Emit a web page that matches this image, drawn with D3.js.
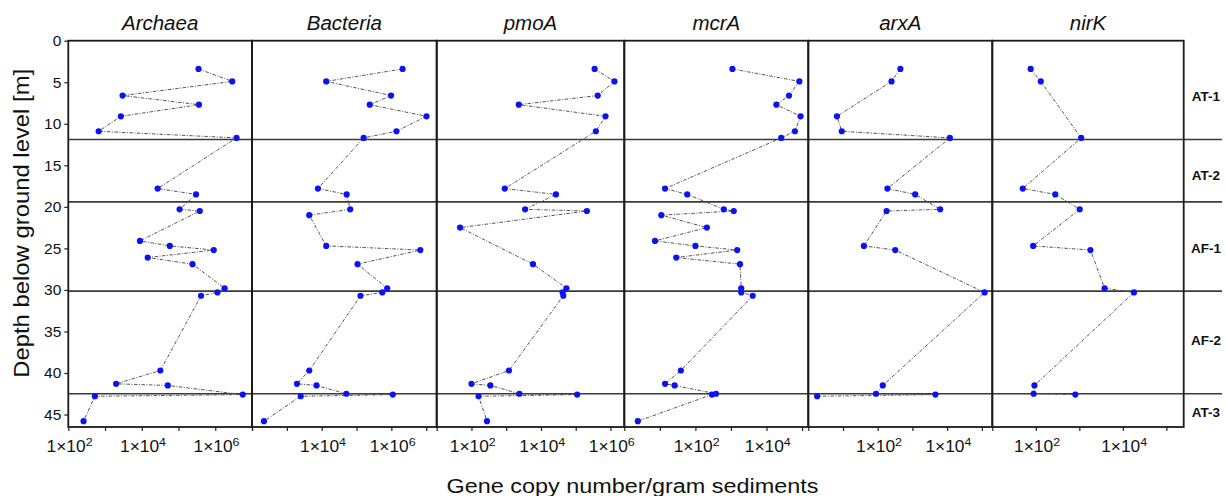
<!DOCTYPE html>
<html>
<head>
<meta charset="utf-8">
<script src="https://cdn.jsdelivr.net/npm/d3@7"></script>
<style>
  html, body { margin: 0; padding: 0; background: #fff; }
  svg { display: block; font-family: "Liberation Sans", Arial, sans-serif; }
</style>
</head>
<body>
<svg id="chart" width="1226" height="496"></svg>
<script>
// ---------------- data ----------------
const genes = ["Archaea", "Bacteria", "pmoA", "mcrA", "arxA", "nirK"];

const archaeaDepth = [3.4,4.9,6.6,7.7,9.1,10.9,11.7,17.8,18.5,20.3,20.5,24.1,24.7,25.2,26.1,26.9,29.8,30.3,30.7,39.7,41.3,41.5,42.6,42.8,45.8];
const archaeaCopies = [3.5e5,2.9e6,3.0e3,3.6e5,2.7e3,6.7e2,3.8e6,2.7e4,3.0e5,1.07e5,3.8e5,8.9e3,5.8e4,9.1e5,1.45e4,2.4e5,1.8e6,1.15e6,4.1e5,3.2e4,2.0e3,5.1e4,5.6e6,5.3e2,2.6e2];

const bacteriaDepth = [3.4,4.9,6.6,7.7,9.1,10.9,11.7,17.8,18.5,20.3,21.0,24.7,25.2,26.9,29.8,30.3,30.7,39.7,41.3,41.5,42.5,42.6,42.8,45.8];
const bacteriaCopies = [2.1e6,1.35e4,9.8e5,2.4e5,1.02e7,1.4e6,1.6e5,7.8e3,5.2e4,6.6e4,4.4e3,1.35e4,6.8e6,1.07e5,7.6e5,5.5e5,1.3e5,4.4e3,1.95e3,7.1e3,5.1e4,1.1e6,2.5e3,2.2e2];

const pmoADepth = [3.4,4.9,6.6,7.7,9.1,10.9,17.8,18.5,20.3,20.5,22.5,26.9,29.8,30.3,30.7,39.7,41.3,41.5,42.5,42.6,42.8,45.8];
const pmoACopies = [3.5e5,1.3e6,4.3e5,2.3e3,7.2e5,3.8e5,9.1e2,2.7e4,3.5e3,2.1e5,47,5.9e3,5.4e4,4.2e4,4.4e4,1.2e3,1.0e2,3.5e2,2.4e3,1.1e5,1.6e2,2.8e2];

const mcrADepth = [3.4,4.9,6.6,7.7,9.1,10.9,11.7,17.8,18.5,20.3,20.5,21.0,22.5,24.1,24.7,25.2,26.1,26.9,29.8,30.3,30.7,39.7,41.3,41.5,42.5,42.6,45.8];
const mcrACopies = [1.1e3,8.4e4,4.3e4,1.9e4,9.1e4,6.3e4,2.6e4,14,59,6.3e2,1.2e3,11,2.1e2,7.3,1.0e2,1.5e3,29,1.8e3,1.95e3,1.95e3,4.1e3,39,14,26,3.8e2,2.9e2,2.4];

const arxADepth = [3.4,4.9,9.1,10.9,11.7,17.8,18.5,20.3,20.5,24.7,25.2,30.3,41.5,42.5,42.6,42.8];
const arxACopies = [4.5e2,2.5e2,6.7,9.2,1.2e4,1.9e2,1.2e3,6.3e3,1.8e2,40,3.2e2,1.2e5,1.4e2,89,4.6e3,1.8];

const nirKDepth = [3.4,4.9,11.7,17.8,18.5,20.3,24.7,25.2,29.8,30.3,41.5,42.5,42.6];
const nirKCopies = [76,1.3e2,1.1e3,50,2.8e2,1.02e3,87,1.8e3,3.8e3,1.8e4,93,89,8.1e2];

const geneDepths = [archaeaDepth, bacteriaDepth, pmoADepth, mcrADepth, arxADepth, nirKDepth];
const geneCopies = [archaeaCopies, bacteriaCopies, pmoACopies, mcrACopies, arxACopies, nirKCopies];

// axis settings (log domains and labelled exponents)
const xDomains = [[1e2, 1e7], [1e2, 2e7], [1e1, 2.5e6], [1, 1.5e5], [1, 2e5], [1e1, 2.5e5]];
const labelExponents = [[2, 4, 6], [4, 6], [2, 4, 6], [2, 4], [2, 4], [2, 4]];

const depthTicks = [0, 5, 10, 15, 20, 25, 30, 35, 40, 45];
const zoneBounds = [0, 11.9, 19.4, 30.15, 42.5, 46.5];
const zoneNames = ["AT-1", "AT-2", "AF-1", "AF-2", "AT-3"];

const xTitle = "Gene copy number/gram sediments";
const yTitle = "Depth below ground level [m]";

// ---------------- layout ----------------
const panelEdges = [68.3, 252, 436.7, 624.3, 808.3, 992.3, 1183.7];
const plotTop = 40.7, plotBottom = 427;
const zoneLineRight = 1222;
const zoneLabelDepth = [6.7, 16.2, 24.95, 36.0, 44.7];

const svg = d3.select("#chart");

const y = d3.scaleLinear().domain([zoneBounds[0], zoneBounds[zoneBounds.length - 1]]).range([plotTop, plotBottom]);

// zone separator lines
svg.append("g").selectAll("line")
  .data(zoneBounds.slice(1, -1))
  .join("line")
  .attr("x1", panelEdges[0]).attr("x2", zoneLineRight)
  .attr("y1", d => y(d)).attr("y2", d => y(d))
  .attr("stroke", "#3a3a3a").attr("stroke-width", 1.6);

// panels
genes.forEach((g, i) => {
  const x0 = panelEdges[i], x1 = panelEdges[i + 1];
  const x = d3.scaleLog().domain(xDomains[i]).range([x0, x1]);
  const pg = svg.append("g");

  pg.append("text")
    .attr("x", (x0 + x1) / 2).attr("y", 30)
    .attr("text-anchor", "middle")
    .attr("font-size", "20.5px").attr("font-style", "italic")
    .attr("fill", "#111")
    .text(g);

  const lo = Math.ceil(Math.log10(xDomains[i][0]) - 1e-9);
  const hi = Math.floor(Math.log10(xDomains[i][1]) + 1e-9);
  const decades = d3.range(lo, hi + 1).map(e => Math.pow(10, e));
  const axis = d3.axisBottom(x).tickValues(decades).tickSize(4).tickFormat("");
  const ag = pg.append("g").attr("transform", `translate(0,${plotBottom})`).call(axis);
  ag.select(".domain").remove();
  ag.selectAll(".tick line").attr("stroke", "#222").attr("stroke-width", 1.2);

  const lab = pg.append("g").selectAll("text")
    .data(labelExponents[i])
    .join("text")
    .attr("x", e => x(Math.pow(10, e)) + 1.3)
    .attr("y", 452.3)
    .attr("text-anchor", "middle")
    .attr("font-size", "16px")
    .attr("fill", "#111")
    .attr("textLength", 46)
    .attr("lengthAdjust", "spacingAndGlyphs");
  lab.append("tspan").text("1×10");
  lab.append("tspan").attr("font-size", "11.5px").attr("dy", "-6").text(e => e);

  const pts = geneDepths[i].map((d, k) => ({ depth: d, v: geneCopies[i][k] }));
  const line = d3.line().x(d => x(d.v)).y(d => y(d.depth));
  pg.append("path")
    .datum(pts)
    .attr("d", line)
    .attr("fill", "none")
    .attr("stroke", "#555")
    .attr("stroke-width", 1)
    .attr("stroke-dasharray", "3.5,1.5,1,1.5");

  pg.append("g").selectAll("circle")
    .data(pts)
    .join("circle")
    .attr("cx", d => x(d.v)).attr("cy", d => y(d.depth))
    .attr("r", 3.1)
    .attr("fill", "#0a14f0");

  pg.append("rect")
    .attr("x", x0).attr("y", plotTop)
    .attr("width", x1 - x0).attr("height", plotBottom - plotTop)
    .attr("fill", "none").attr("stroke", "#1a1a1a").attr("stroke-width", 1.8);
});

// y axis
const yAxis = d3.axisLeft(y).tickValues(depthTicks).tickSize(4).tickPadding(3);
const yg = svg.append("g").attr("transform", `translate(${panelEdges[0]},0)`).call(yAxis);
yg.select(".domain").remove();
yg.selectAll(".tick line").attr("stroke", "#222").attr("stroke-width", 1.2);
yg.selectAll(".tick text")
  .attr("font-size", "15.5px")
  .attr("font-family", "Liberation Sans, Arial, sans-serif")
  .attr("fill", "#111");

// zone labels
svg.append("g").selectAll("text")
  .data(zoneNames)
  .join("text")
  .attr("x", 1206)
  .attr("y", (d, k) => y(zoneLabelDepth[k]))
  .attr("dy", "0.36em")
  .attr("text-anchor", "middle")
  .attr("font-size", "13.5px").attr("font-weight", "bold")
  .attr("fill", "#111")
  .text(d => d);

// axis titles
svg.append("text")
  .attr("x", 632.5).attr("y", 492.5)
  .attr("text-anchor", "middle")
  .attr("font-size", "20px")
  .attr("fill", "#111")
  .attr("textLength", 372).attr("lengthAdjust", "spacingAndGlyphs")
  .text(xTitle);

svg.append("text")
  .attr("transform", "translate(29,223.3) rotate(-90) scale(1.085,1)")
  .attr("text-anchor", "middle")
  .attr("font-size", "22px")
  .attr("fill", "#111")
  .text(yTitle);
</script>
</body>
</html>
